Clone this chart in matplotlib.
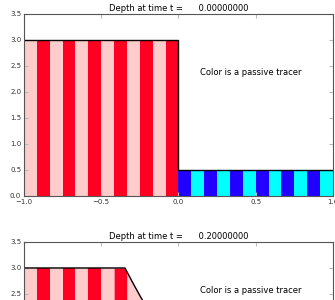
import matplotlib
matplotlib.use("Agg")
import matplotlib.pyplot as plt
import numpy as np

# depth profiles
x0 = [-1.0, 0.0, 0.0, 1.0]
h0 = [3.0, 3.0, 0.5, 0.5]
x1 = [-1.0, -0.346, -0.30, -0.25, -0.20, -0.10, 0.0, 0.10, 0.20, 0.20, 1.0]
h1 = [3.0, 3.0, 2.74, 2.47, 2.21, 1.75, 1.53, 1.53, 1.53, 0.5, 0.5]

# tracer stripes: edges and colours (first 12 stripes came from the left)
edges0 = [-1 + k / 12 for k in range(25)]
edges1 = [-1.0, -0.917, -0.833, -0.75, -0.667, -0.583, -0.5, -0.417,
          -0.333, -0.22, -0.10, 0.05, 0.20, 0.283, 0.367, 0.45, 0.533,
          0.617, 0.70, 0.783, 0.867, 0.95, 1.0]
left_cols = ["#ffcccc", "#ff0022"]
right_cols = ["#2200ff", "#00ffff"]

titles = ["Depth at time t =      0.00000000", "Depth at time t =      0.20000000"]
note = "Color is a passive tracer"
note_pos = [(0.14, 2.37), (0.14, 2.57)]

xticks = [-1.0, -0.5, 0.0, 0.5, 1.0]
yticks = [0.0, 0.5, 1.0, 1.5, 2.0, 2.5, 3.0, 3.5]


def draw(ax, xs, hs, edges, title, pos):
    xs_a = np.array(xs)
    hs_a = np.array(hs)
    eps = 1e-9
    for i in range(len(edges) - 1):
        a, b = edges[i], edges[i + 1]
        c = (left_cols if i < 12 else right_cols)[i % 2]
        inner = [x for x in xs if a < x < b]
        px = [a] + inner + [b]
        # sample just inside the stripe so a jump at an edge is taken from the right side
        sx = [a + eps] + inner + [b - eps]
        py = np.interp(sx, xs_a, hs_a)
        ax.fill_between(px, 0, py, color=c, linewidth=0)
    ax.plot(xs, hs, color="black", lw=1.0)
    ax.set_xlim(-1, 1)
    ax.set_ylim(0, 3.5)
    ax.set_xticks(xticks)
    ax.set_yticks(yticks)
    ax.tick_params(direction="in", length=3, color="#bbbbbb", labelsize=5,
                   labelcolor="#333333", pad=2, right=True, top=True)
    for s in ax.spines.values():
        s.set_color("#555555")
        s.set_linewidth(0.8)
    ax.set_title(title, fontsize=6, pad=2)
    ax.text(pos[0], pos[1], note, fontsize=6, va="center")


fig = plt.figure(figsize=(3.35, 3.0), dpi=100)
ax1 = fig.add_axes([0.0716, 0.3467, 0.922, 0.6067])
ax2 = fig.add_axes([0.0716, -0.4133, 0.922, 0.6067])
draw(ax1, x0, h0, edges0, titles[0], note_pos[0])
draw(ax2, x1, h1, edges1, titles[1], note_pos[1])

fig.savefig("out.png", dpi=100)
